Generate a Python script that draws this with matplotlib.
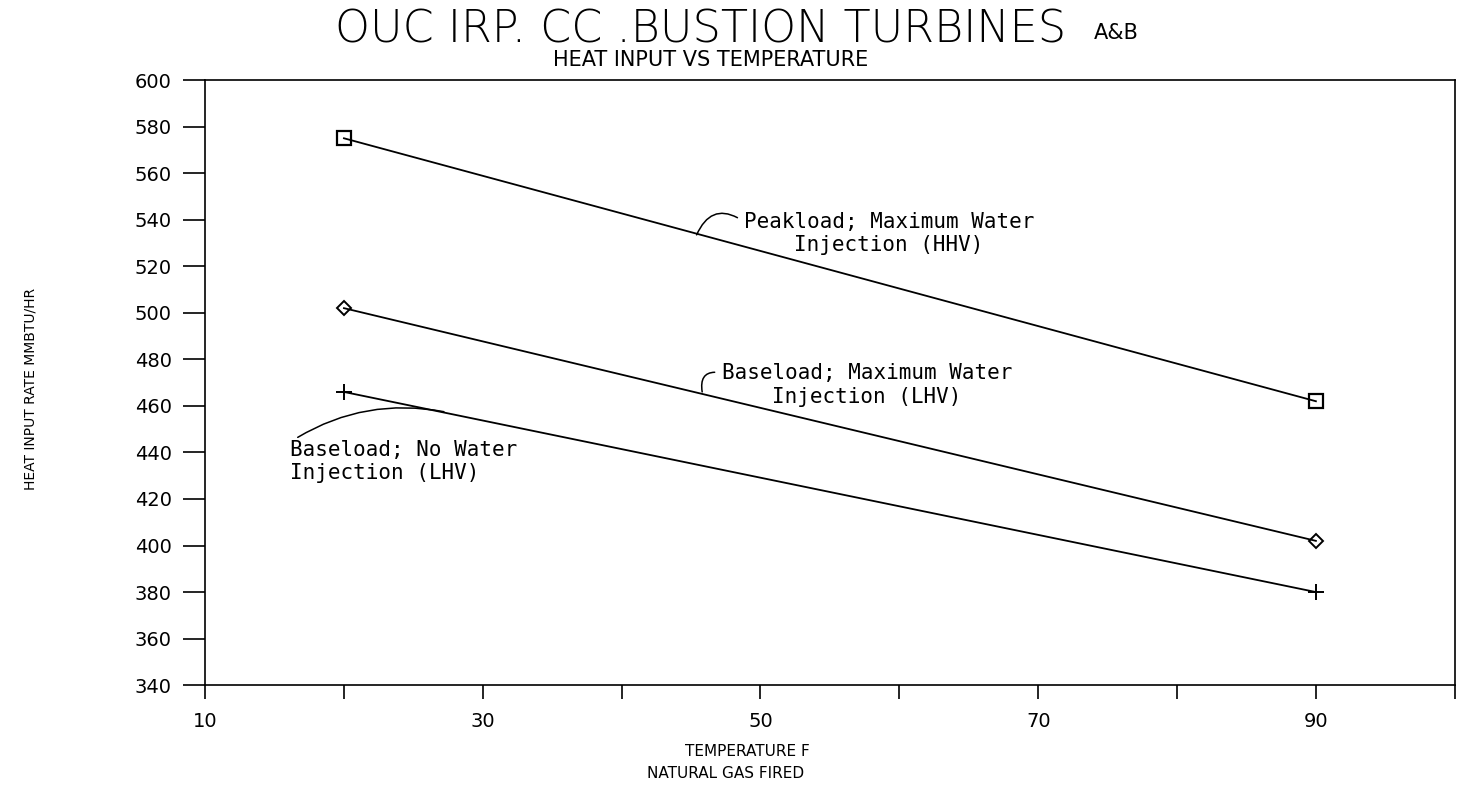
import matplotlib
matplotlib.use("Agg")
from matplotlib import pyplot as plt
import numpy as np

# data
temps = [20, 90]
peak_hhv = [575, 462]
base_water_lhv = [502, 402]
base_nowater_lhv = [466, 380]

x_ticks = [10, 20, 30, 40, 50, 60, 70, 80, 90, 100]
x_ticklabels = ["10", "", "30", "", "50", "", "70", "", "90", ""]
y_ticks = list(range(340, 601, 20))

fig = plt.figure(figsize=(14.65, 7.93), dpi=100)
ax = fig.add_axes([0.14, 0.136, 0.853, 0.763])

lw = 1.3
ax.plot(temps, peak_hhv, c='k', lw=lw, marker='s', ms=10, mfc='none', mew=1.6)
ax.plot(temps, base_water_lhv, c='k', lw=lw, marker='D', ms=7, mfc='none', mew=1.4)
ax.plot(temps, base_nowater_lhv, c='k', lw=lw, marker='+', ms=11, mew=1.4)

ax.set_xlim(10, 100)
ax.set_ylim(340, 600)
ax.set_xticks(x_ticks)
ax.set_xticklabels(x_ticklabels)
ax.set_yticks(y_ticks)
ax.tick_params(axis='y', direction='out', length=16, width=1.2, labelsize=14, pad=8)
ax.tick_params(axis='x', direction='out', length=10, width=1.2, labelsize=14, pad=9)
for s in ax.spines.values():
    s.set_linewidth(1.2)

mono = 'DejaVu Sans Mono'
# annotations with small curly leaders from the text's left edge
ax.annotate("Peakload; Maximum Water\nInjection (HHV)", xy=(45.4, 533.5), xytext=(48.8, 534),
            fontsize=15, family=mono, ha='left', va='center', multialignment='center',
            arrowprops=dict(arrowstyle='-', color='k', lw=1.1, relpos=(0, 0.78),
                            shrinkA=3, shrinkB=0,
                            connectionstyle='arc3,rad=0.6'))
ax.annotate("Baseload; Maximum Water\nInjection (LHV)", xy=(45.8, 466), xytext=(47.2, 469),
            fontsize=15, family=mono, ha='left', va='center', multialignment='center',
            arrowprops=dict(arrowstyle='-', color='k', lw=1.1, relpos=(0, 0.78),
                            shrinkA=3, shrinkB=0,
                            connectionstyle='arc3,rad=0.7'))
ax.annotate("Baseload; No Water\nInjection (LHV)", xy=(27.2, 457.5), xytext=(16.1, 436),
            fontsize=15, family=mono, ha='left', va='center',
            arrowprops=dict(arrowstyle='-', color='k', lw=1.1, relpos=(0, 0.95),
                            shrinkA=0, shrinkB=0,
                            connectionstyle='arc3,rad=-0.2'))

# titles and axis labels
fig.text(0.478, 0.962, "OUC IRP. CC .BUSTION TURBINES", fontsize=32, ha='center', va='center',
         fontweight='light')
fig.text(0.762, 0.958, "A&B", fontsize=15, ha='center', va='center')
fig.text(0.485, 0.924, "HEAT INPUT VS TEMPERATURE", fontsize=15, ha='center', va='center')
fig.text(0.021, 0.51, "HEAT INPUT RATE MMBTU/HR", fontsize=10, rotation=90,
         ha='center', va='center')
fig.text(0.51, 0.052, "TEMPERATURE F", fontsize=11, ha='center', va='center')
fig.text(0.495, 0.025, "NATURAL GAS FIRED", fontsize=11, ha='center', va='center')

fig.savefig("out.png", dpi=100)
